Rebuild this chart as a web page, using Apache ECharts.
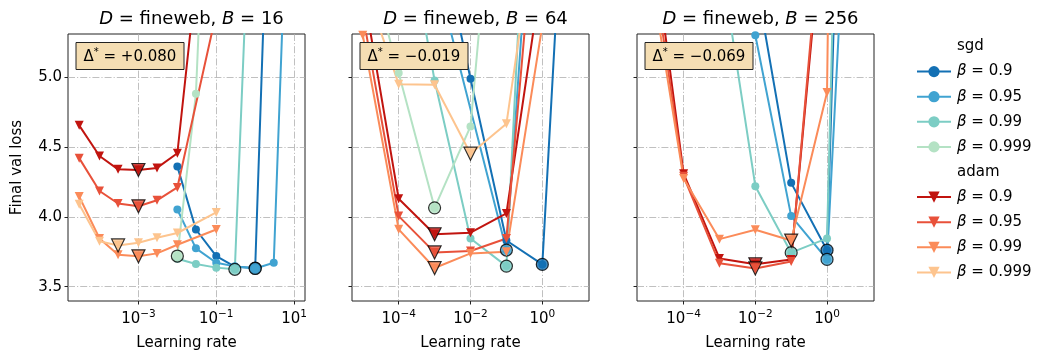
<!DOCTYPE html>
<html><head><meta charset="utf-8">
<script src="https://cdn.jsdelivr.net/npm/echarts@6/dist/echarts.min.js"></script>
<style>html,body{margin:0;padding:0;background:#fff}#c{width:1038px;height:356px}</style>
</head><body><div id="c"></div>
<script>
// ---------------- data ----------------
const batchSizes = [16, 64, 256];
const deltas = ['+0.080', '\u22120.019', '\u22120.069'];
const betas = ['0.9', '0.95', '0.99', '0.999'];
const yTicks = [3.5, 4.0, 4.5, 5.0];
const xTicksB16 = [1e-3, 1e-1, 1e1];
const xTicksB64 = [1e-4, 1e-2, 1e0];
const xTicksB256 = [1e-4, 1e-2, 1e0];

// learning-rate grids
const lrB16 = [3e-5, 1e-4, 3e-4, 1e-3, 3e-3, 1e-2, 3e-2, 1e-1, 3e-1, 1, 3, 10];
const lrB64 = [1e-5, 1e-4, 1e-3, 1e-2, 1e-1, 1, 10];
const lrB256 = [1e-5, 1e-4, 1e-3, 1e-2, 1e-1, 1, 10];

// B = 16
const sgdB16_b09   = [null, null, null, null, null, 4.361, 3.909, 3.719, 3.643, 3.633, 7.6, null];
const sgdB16_b095  = [null, null, null, null, null, 4.052, 3.774, 3.671, 3.645, 3.630, 3.671, 7.7];
const sgdB16_b099  = [null, null, null, null, null, 3.700, 3.662, 3.636, 3.624, 7.25, null, null];
const sgdB16_b0999 = [null, null, null, null, null, 3.719, 4.881, 8.3, null, null, null, null];
const adamB16_b09   = [4.655, 4.435, 4.340, 4.335, 4.350, 4.455, null, 7.05, null, null, null, null];
const adamB16_b095  = [4.420, 4.185, 4.095, 4.075, 4.118, 4.210, null, 5.46, null, null, null, null];
const adamB16_b099  = [4.145, 3.845, 3.728, 3.717, 3.738, 3.800, null, 3.909, null, null, null, null];
const adamB16_b0999 = [4.090, 3.825, 3.795, 3.814, 3.850, 3.884, null, 4.031, null, null, null, null];

// B = 64
const sgdB64_b09   = [null, null, 6.2, 4.988, 3.830, 3.659, 8.3];
const sgdB64_b095  = [null, null, 5.78, null, 3.762, 7.47, null];
const sgdB64_b099  = [null, 6.42, 4.976, 3.845, 3.647, 8.8, null];
const sgdB64_b0999 = [6.0, 5.03, 4.064, 4.647, 7.52, null, null];
const adamB64_b09   = [5.645, 4.129, 3.875, 3.886, 4.024, 5.76, null];
const adamB64_b095  = [5.45, 4.005, 3.745, 3.755, 3.845, 6.77, null];
const adamB64_b099  = [5.30, 3.910, 3.633, 3.738, 3.750, 5.37, null];
const adamB64_b0999 = [5.7, 4.950, 4.945, 4.452, 4.666, 6.44, null];

// B = 256
const sgdB256_b09   = [null, null, null, 5.72, 4.243, 3.761, 12.4];
const sgdB256_b095  = [null, null, null, 5.30, 4.005, 3.695, 8.69];
const sgdB256_b099  = [null, null, 5.9, 4.219, 3.743, 3.845, 14];
const sgdB256_b0999 = [null, null, null, null, null, null, null];
const adamB256_b09   = [6.26, 4.309, 3.702, 3.660, 3.695, 6.47, null];
const adamB256_b095  = [6.05, 4.290, 3.667, 3.630, 3.680, 6.6, null];
const adamB256_b099  = [5.87, 4.274, 3.840, 3.907, 3.830, 4.89, 25];
const adamB256_b0999 = [null, null, null, null, null, null, null];

// ---------------- layout / style ----------------
const sgdColors = ['#1370b4', '#40a3d1', '#7ccdc4', '#b4e2c4'];
const adamColors = ['#c1140f', '#e8513a', '#fb8b59', '#fdc48e'];
const FONT = 'DejaVu Sans';
const gridLefts = [68, 352, 637];
const gridTop = 34, gridW = 237, gridH = 268;
const xLogExt = [[-4.81, 1.28], [-5.30, 1.30], [-5.30, 1.31]];
const yMin = 3.397, yMax = 5.309;
const gridLine = {color: '#b0b0b0', width: 0.8, type: [7, 2, 1.2, 2]};

const panels = [
  {lr: lrB16, ticks: xTicksB16, sgd: [sgdB16_b09, sgdB16_b095, sgdB16_b099, sgdB16_b0999], adam: [adamB16_b09, adamB16_b095, adamB16_b099, adamB16_b0999]},
  {lr: lrB64, ticks: xTicksB64, sgd: [sgdB64_b09, sgdB64_b095, sgdB64_b099, sgdB64_b0999], adam: [adamB64_b09, adamB64_b095, adamB64_b099, adamB64_b0999]},
  {lr: lrB256, ticks: xTicksB256, sgd: [sgdB256_b09, sgdB256_b095, sgdB256_b099, sgdB256_b0999], adam: [adamB256_b09, adamB256_b095, adamB256_b099, adamB256_b0999]}
];

function expLabel(v) {
  const e = Math.round(Math.log10(v));
  const s = String(e).replace('-', '\u2212');
  return '{b|10}{s|' + s + '}';
}

const grids = [], xAxes = [], yAxes = [], series = [], titles = [];
panels.forEach((p, pi) => {
  grids.push({left: gridLefts[pi], top: gridTop, width: gridW, height: gridH, show: true,
    borderColor: '#222', borderWidth: 1, backgroundColor: 'transparent', containLabel: false});
  xAxes.push({type: 'log', logBase: 10, gridIndex: pi,
    min: Math.pow(10, xLogExt[pi][0]), max: Math.pow(10, xLogExt[pi][1]),
    name: 'Learning rate', nameLocation: 'middle', nameGap: 35,
    nameTextStyle: {fontFamily: FONT, fontSize: 15, color: '#000'},
    axisLine: {show: false},
    axisTick: {show: true, length: 3.5, lineStyle: {color: '#222', width: 1}, customValues: p.ticks},
    minorTick: {show: false},
    axisLabel: {show: true, customValues: p.ticks, margin: 8, formatter: expLabel,
      rich: {b: {fontFamily: FONT, fontSize: 15, color: '#000', lineHeight: 20},
             s: {fontFamily: FONT, fontSize: 10.5, color: '#000', lineHeight: 12, verticalAlign: 'top'}}},
    splitLine: {show: true, lineStyle: gridLine, showMinLine: true, showMaxLine: true}
  });
  yAxes.push({type: 'value', gridIndex: pi, min: yMin, max: yMax, splitNumber: 4,
    name: pi === 0 ? 'Final val loss' : '', nameLocation: 'middle', nameGap: 43,
    nameTextStyle: {fontFamily: FONT, fontSize: 15, color: '#000'},
    axisLine: {show: false},
    axisTick: {show: true, length: 3.5, lineStyle: {color: '#222', width: 1}, customValues: yTicks},
    axisLabel: {show: pi === 0, customValues: yTicks, margin: 6, fontFamily: FONT, fontSize: 15, color: '#000',
      formatter: v => v.toFixed(1)},
    splitLine: {show: true, lineStyle: gridLine, showMinLine: true, showMaxLine: true}
  });
  titles.push({text: '{i|D} = fineweb, {i|B} = ' + batchSizes[pi], left: gridLefts[pi] + gridW / 2, top: 5,
    textAlign: 'center',
    textStyle: {fontFamily: FONT, fontSize: 18, fontWeight: 'normal', color: '#000',
      rich: {i: {fontFamily: FONT, fontSize: 18, fontStyle: 'italic', fontWeight: 'normal', color: '#000'}}}});
  titles.push({text: '{n|\u0394}{s|*}{n| = ' + deltas[pi] + '}', left: gridLefts[pi] + 7.5, top: 42,
    backgroundColor: '#f5deb3', borderColor: '#222', borderWidth: 1, padding: [5, 8, 5, 8],
    textStyle: {fontFamily: FONT, fontSize: 15, fontWeight: 'normal', color: '#000',
      rich: {n: {fontFamily: FONT, fontSize: 15, fontWeight: 'normal', color: '#000', lineHeight: 20},
             s: {fontFamily: FONT, fontSize: 10, fontWeight: 'normal', color: '#000', lineHeight: 11, verticalAlign: 'top'}}},
    z: 20});

  ['sgd', 'adam'].forEach(opt => {
    p[opt].forEach((vals, bi) => {
      const color = opt === 'sgd' ? sgdColors[bi] : adamColors[bi];
      const symbol = opt === 'sgd' ? 'circle' : 'triangle';
      const rot = opt === 'sgd' ? 0 : 180;
      const data = [];
      vals.forEach((v, k) => { if (v !== null) data.push([p.lr[k], v]); });
      series.push({type: 'line', name: opt + '|' + betas[bi], xAxisIndex: pi, yAxisIndex: pi,
        data: data, symbol: symbol, symbolRotate: rot, symbolSize: opt === 'sgd' ? 8 : 9,
        showAllSymbol: true, clip: true, animation: false, silent: true,
        lineStyle: {width: 2, color: color}, itemStyle: {color: color}, z: 2,
        emphasis: {disabled: true}});
      if (data.length) {
        let best = data[0];
        data.forEach(d => { if (d[1] < best[1]) best = d; });
        series.push({type: 'scatter', name: '_best', xAxisIndex: pi, yAxisIndex: pi,
          data: [best], symbol: symbol, symbolRotate: rot, symbolSize: opt === 'sgd' ? 12 : 13,
          itemStyle: {color: color, borderColor: '#000', borderWidth: 1.2}, clip: true,
          animation: false, silent: true, z: 2, emphasis: {disabled: true}});
      }
    });
  });
});
// legend header dummies
series.push({type: 'line', name: 'sgd', data: [], xAxisIndex: 0, yAxisIndex: 0, symbol: 'none'});
series.push({type: 'line', name: 'adam', data: [], xAxisIndex: 0, yAxisIndex: 0, symbol: 'none'});

const legendData = [{name: 'sgd', icon: 'none'}]
  .concat(betas.map(b => 'sgd|' + b))
  .concat([{name: 'adam', icon: 'none'}])
  .concat(betas.map(b => 'adam|' + b));

const chart = echarts.init(document.getElementById('c'), null, {renderer: 'canvas'});
chart.setOption({
  animation: false,
  backgroundColor: '#fff',
  title: titles,
  grid: grids, xAxis: xAxes, yAxis: yAxes, series: series,
  legend: {data: legendData, orient: 'vertical', left: 911, top: 34, itemWidth: 34, itemHeight: 14,
    itemGap: 10.1, selectedMode: false,
    formatter: n => { const parts = n.split('|'); return parts.length > 1 ? '{i|\u03b2} = ' + parts[1] : n; },
    textStyle: {fontFamily: FONT, fontSize: 15, color: '#000', padding: [0, 0, 0, 1],
      rich: {i: {fontFamily: FONT, fontSize: 15, fontStyle: 'italic', color: '#000'}}}}
});
</script></body></html>
